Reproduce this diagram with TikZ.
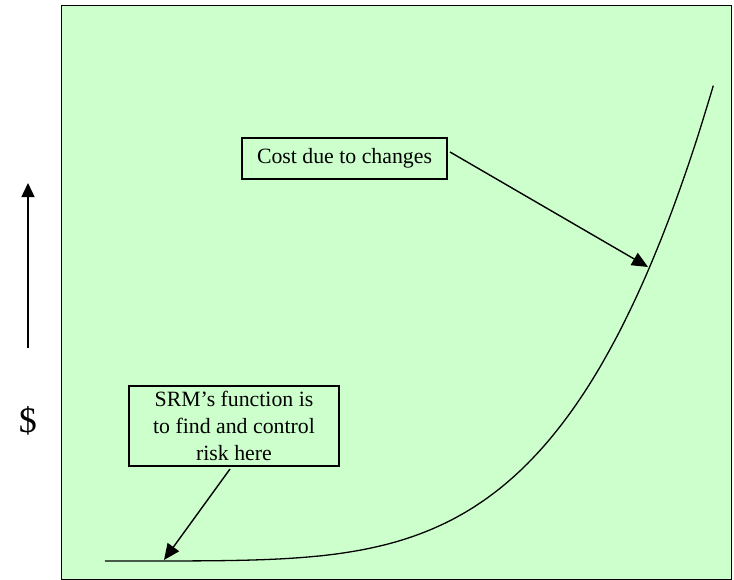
\documentclass[tikz,border=0pt]{standalone}
\usepackage{fontspec}
\setmainfont{Liberation Serif}
\usetikzlibrary{arrows.meta}
\definecolor{bggreen}{HTML}{CCFFCC}
\begin{document}
\begin{tikzpicture}[x=1pt,y=-1pt,
  lbl/.style={draw=black, line width=1.2pt, fill=bggreen, font=\fontsize{21.8}{26.7}\selectfont, inner sep=0pt, align=center},
  pointer/.style={line width=1.4pt, -{Triangle[length=16pt,width=14pt]}},
  curveline/.style={line width=1.3pt}]
\useasboundingbox (0,0) rectangle (734,579);
\node[draw=black, line width=1.4pt, fill=bggreen, minimum width=670pt, minimum height=574pt, inner sep=0pt, anchor=north west] (panel) at (61,5) {};
% curve
\draw[curveline] (105,561) -- plot[domain=0.002:1, samples=120, smooth] ({105+609*\x}, {561-478*(\x)^4.35});
% labels
\node[lbl, minimum width=205pt, minimum height=41pt] (cost) at (344.5,158.5) {Cost due to changes};
\node[lbl, minimum width=210pt, minimum height=80pt] (srm) at (234,426) {SRM’s function is\\to find and control\\risk here};
% arrow end points
\coordinate (costtail) at (450,152);
\coordinate (costtip) at (648,267);
\coordinate (srmtail) at (230,469);
\coordinate (srmtip) at (164,560);
\draw[pointer] (costtail) -- (costtip);
\draw[pointer] (srmtail) -- (srmtip);
% axis
\coordinate (axbot) at (28,348);
\coordinate (axtop) at (28,183);
\draw[line width=1.4pt, -{Triangle[length=14pt,width=13pt]}] (axbot) -- (axtop);
\node[font=\fontsize{36}{40}\selectfont, inner sep=0pt] (dollar) at (28,421) {\$};
\end{tikzpicture}
\end{document}
